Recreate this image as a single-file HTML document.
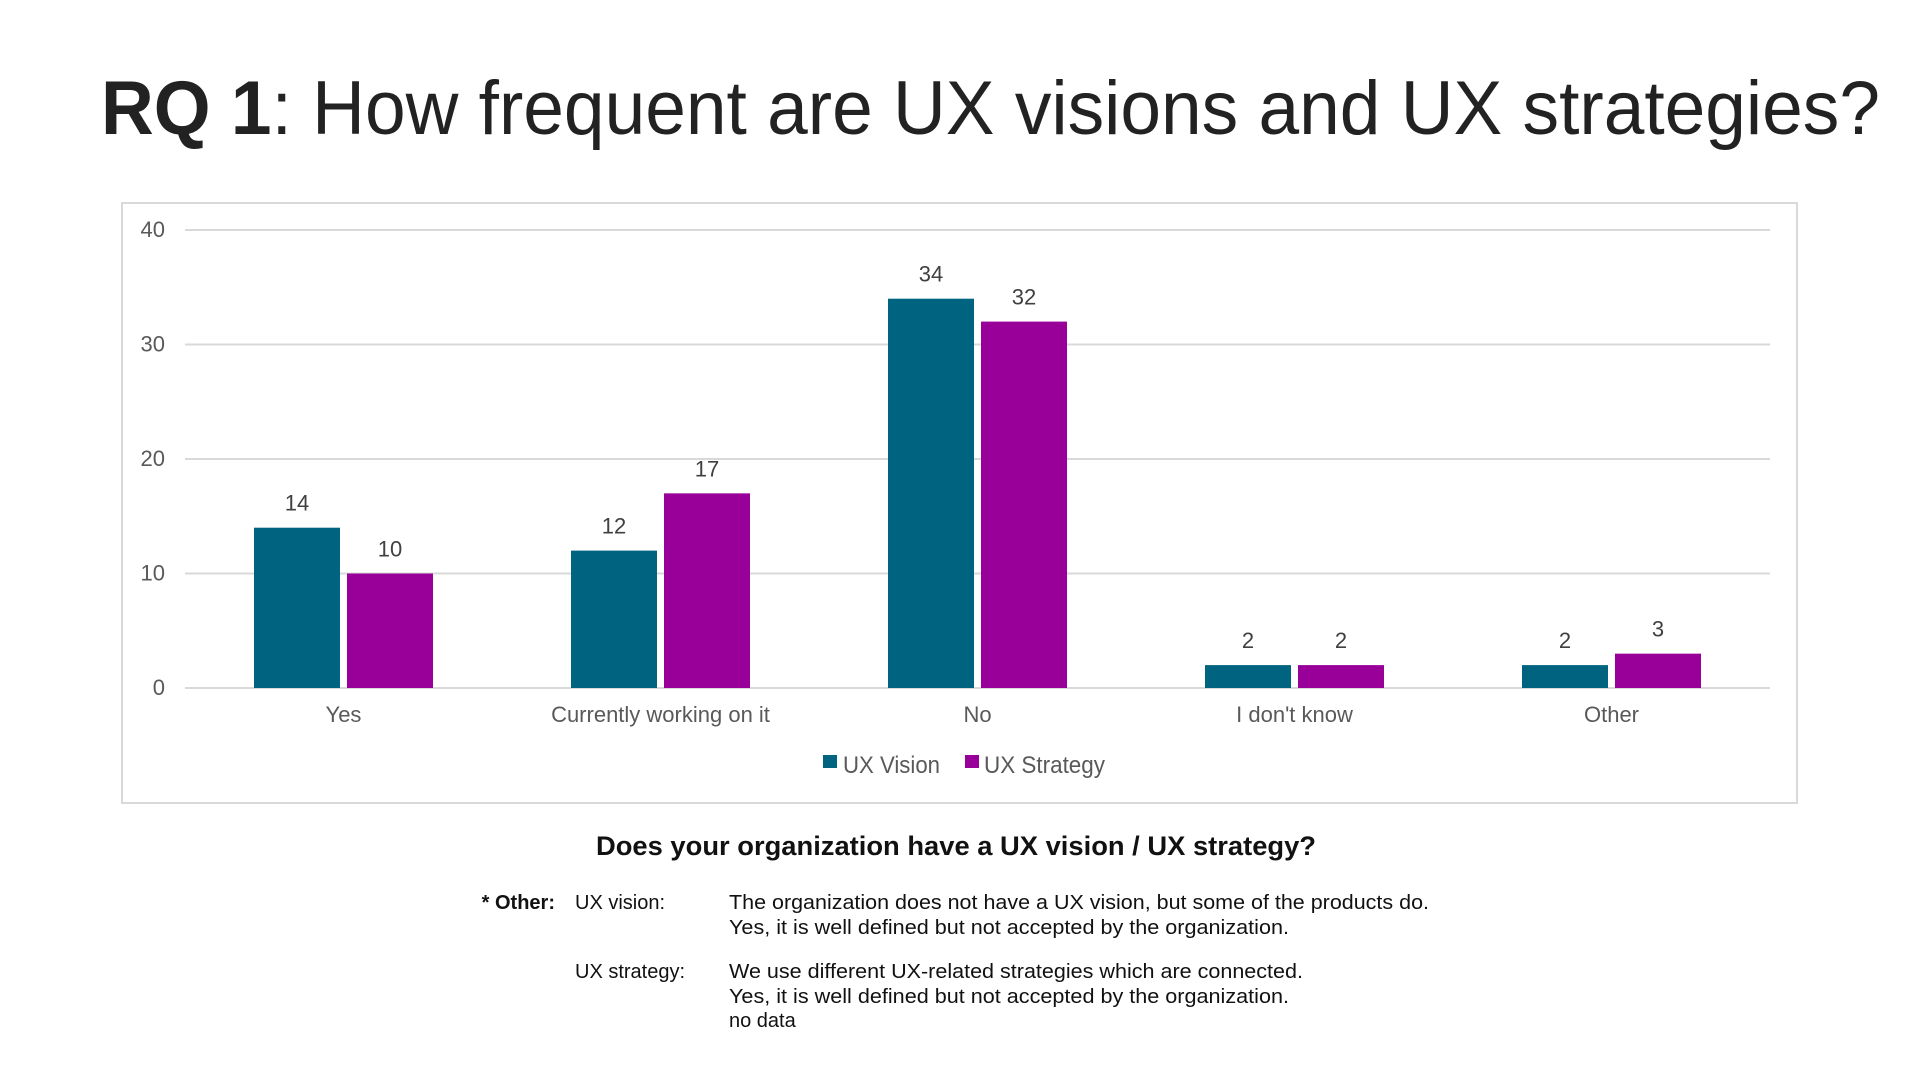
<!DOCTYPE html>
<html><head><meta charset="utf-8"><style>
html,body{margin:0;padding:0;background:#fff;}
svg{display:block;font-family:"Liberation Sans",Arial,sans-serif;}
</style></head><body>
<svg id="chart" width="1920" height="1080" viewBox="0 0 1920 1080">
<text x="101" y="134" font-size="76" fill="#222" textLength="1779" lengthAdjust="spacingAndGlyphs"><tspan font-weight="bold">RQ 1</tspan>: How frequent are UX visions and UX strategies?</text>
<rect x="122" y="203" width="1675" height="600" fill="#fff" stroke="#d9d9d9" stroke-width="2"/>
<g id="grid"></g><g id="bars"></g>
<g>
<rect x="823" y="755" width="14" height="13" fill="#006480"/>
<text x="843" y="773" font-size="24" fill="#595959" textLength="97" lengthAdjust="spacingAndGlyphs">UX Vision</text>
<rect x="965" y="755" width="14" height="13" fill="#990099"/>
<text x="984" y="773" font-size="24" fill="#595959" textLength="121" lengthAdjust="spacingAndGlyphs">UX Strategy</text>
</g>
<text x="596" y="855" font-size="27" font-weight="bold" fill="#111" textLength="720" lengthAdjust="spacingAndGlyphs">Does your organization have a UX vision / UX strategy?</text>
<g font-size="20" fill="#111">
<text x="555" y="909" text-anchor="end" font-weight="bold">* Other:</text>
<text x="575" y="909">UX vision:</text>
<text x="729" y="909" textLength="700" lengthAdjust="spacingAndGlyphs">The organization does not have a UX vision, but some of the products do.</text>
<text x="729" y="934" textLength="560" lengthAdjust="spacingAndGlyphs">Yes, it is well defined but not accepted by the organization.</text>
<text x="575" y="978">UX strategy:</text>
<text x="729" y="978" textLength="574" lengthAdjust="spacingAndGlyphs">We use different UX-related strategies which are connected.</text>
<text x="729" y="1003" textLength="560" lengthAdjust="spacingAndGlyphs">Yes, it is well defined but not accepted by the organization.</text>
<text x="729" y="1027">no data</text>
</g>
</svg>
<script>
const categories = ["Yes","Currently working on it","No","I don't know","Other"];
const visionValues = [14,12,34,2,2];
const strategyValues = [10,17,32,2,3];
const yTicks = [0,10,20,30,40];
const NS="http://www.w3.org/2000/svg";
const plotL=185, plotR=1770, y0=688, yTop=230, yMax=40;
const y=v=>y0-(v/yMax)*(y0-yTop);
const band=(plotR-plotL)/categories.length;
const cx=i=>plotL+band*(i+0.5);
function mk(tag,attrs,parent,txt){const e=document.createElementNS(NS,tag);for(const k in attrs)e.setAttribute(k,attrs[k]);if(txt!=null)e.textContent=txt;parent.appendChild(e);return e;}
const grid=document.getElementById('grid'), bars=document.getElementById('bars');
yTicks.forEach(t=>{
  const l=mk('line',{x1:plotL,x2:plotR,y1:y(t),y2:y(t),stroke:'#d9d9d9','stroke-width':2},grid);
  
  
  const tx=mk('text',{x:165,y:y(t)+7,'text-anchor':'end','font-size':22,fill:'#595959'},grid,t);
  
  
});
const bw=86, gap=7;
categories.forEach((c,i)=>{
  [[visionValues[i],'#006480',-1,'vision'],[strategyValues[i],'#990099',1,'strategy']].forEach(([v,col,side,nm])=>{
    const x=side<0?cx(i)-gap/2-bw:cx(i)+gap/2;
    const r=mk('rect',{x:x,y:y(v),width:bw,height:y0-y(v),fill:col},bars);
    
    
    const t=mk('text',{x:x+bw/2,y:y(v)-17,'text-anchor':'middle','font-size':22,fill:'#404040'},bars,v);
    
    
  });
  const lab=mk('text',{x:cx(i),y:722,'text-anchor':'middle','font-size':22,fill:'#595959'},bars,c);
  
  
});
</script>
</body></html>
